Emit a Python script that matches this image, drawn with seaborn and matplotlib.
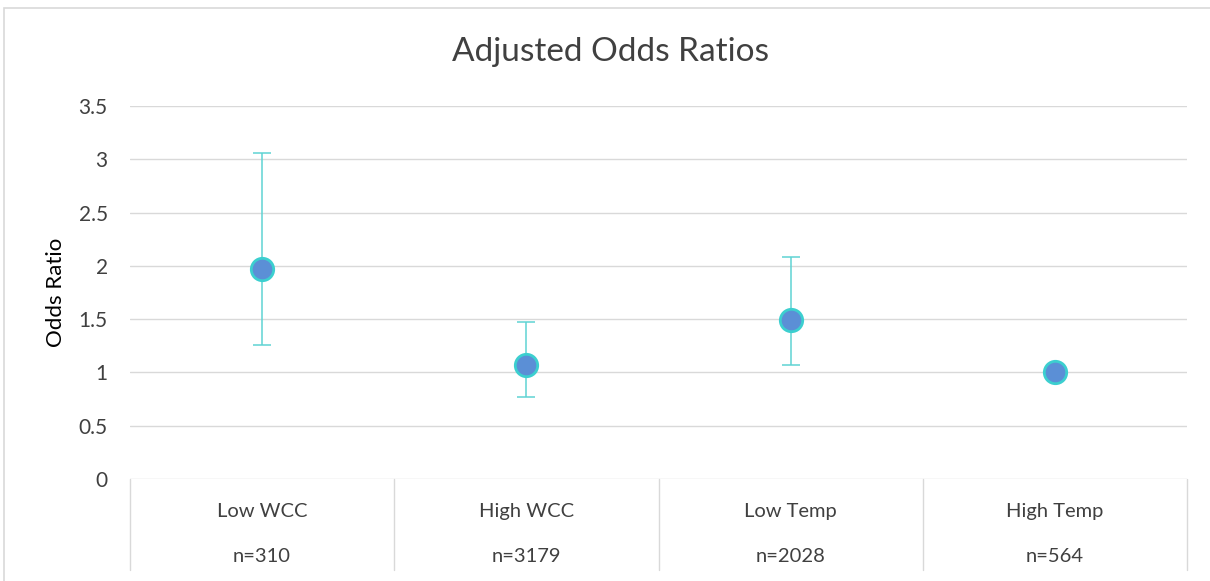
import matplotlib
matplotlib.use("Agg")
import matplotlib.pyplot as plt
from matplotlib.patches import Rectangle
from matplotlib.lines import Line2D
import seaborn as sns
import pandas as pd
import numpy as np

# Adjusted odds ratios with 95% confidence limits per subgroup
groups = ["Low WCC", "High WCC", "Low Temp", "High Temp"]
sizes = ["n=310", "n=3179", "n=2028", "n=564"]
odds_ratio = [1.97, 1.07, 1.49, 1.00]
ci_low = [1.26, 0.77, 1.07, 1.00]
ci_high = [3.06, 1.47, 2.08, 1.00]
y_ticks = [0, 0.5, 1, 1.5, 2, 2.5, 3, 3.5]
y_tick_labels = ["0", "0.5", "1", "1.5", "2", "2.5", "3", "3.5"]

sns.set_theme(style="white")
plt.rcParams["font.family"] = ["Lato", "DejaVu Sans"]

df = pd.DataFrame({"group": groups, "size": sizes, "or": odds_ratio,
                   "lo": ci_low, "hi": ci_high})
df["pos"] = np.arange(len(df))

W, H = 1210, 581
fig = plt.figure(figsize=(W / 100, H / 100), dpi=100)
ax = fig.add_axes([130 / W, 102 / H, (1187 - 130) / W, (479 - 106) / H])

grid_c = "#D9D9D9"
teal = "#5FD3D3"
fill = "#5B8FD6"
text_c = "#404040"

# outer chart frame (only its top and left edges fall inside the image)
fig.patches.append(Rectangle((4 / W, -0.2), 1.2, 1.2 - 8 / H, transform=fig.transFigure,
                             fill=False, edgecolor=grid_c, linewidth=1.2))

# confidence intervals
err = np.array([df["or"] - df["lo"], df["hi"] - df["or"]])
has_err = (df["hi"] - df["lo"]) > 0
ax.errorbar(df["pos"][has_err], df["or"][has_err], yerr=err[:, has_err.values],
            fmt="none", ecolor=teal, elinewidth=1.1, capsize=6.5, capthick=1.1, zorder=2)

sns.scatterplot(data=df, x="pos", y="or", ax=ax, s=260, color=fill,
                edgecolor="#3CCFCF", linewidth=2, zorder=3, legend=False)

ax.set_xlim(-0.5, len(groups) - 0.5)
ax.set_ylim(0, 3.5)
ax.set_yticks(y_ticks)
ax.set_yticklabels(y_tick_labels, fontsize=15, color=text_c)
ax.yaxis.grid(True, color=grid_c, linewidth=1)
ax.set_axisbelow(True)
for s in ax.spines.values():
    s.set_visible(False)
ax.tick_params(axis="y", length=0, pad=16)
ax.set_xticks([])
ax.set_xlabel("")
ax.set_ylabel("Odds Ratio", fontsize=16, color="black", labelpad=9)

# category table below the axis
for i in range(len(groups) + 1):
    ax.add_line(Line2D([i - 0.5, i - 0.5], [0, -0.85], color=grid_c, linewidth=1,
                       transform=ax.transData, clip_on=False))
for i, (g, n) in enumerate(zip(groups, sizes)):
    ax.text(i, -0.305, g, ha="center", va="center", fontsize=14.5, color=text_c, clip_on=False)
    ax.text(i, -0.73, n, ha="center", va="center", fontsize=14.5, color=text_c, clip_on=False)

fig.text(610 / W, 1 - 52 / H, "Adjusted Odds Ratios", ha="center", va="center",
         fontsize=24, color=text_c)

fig.savefig("out.png", dpi=100)
